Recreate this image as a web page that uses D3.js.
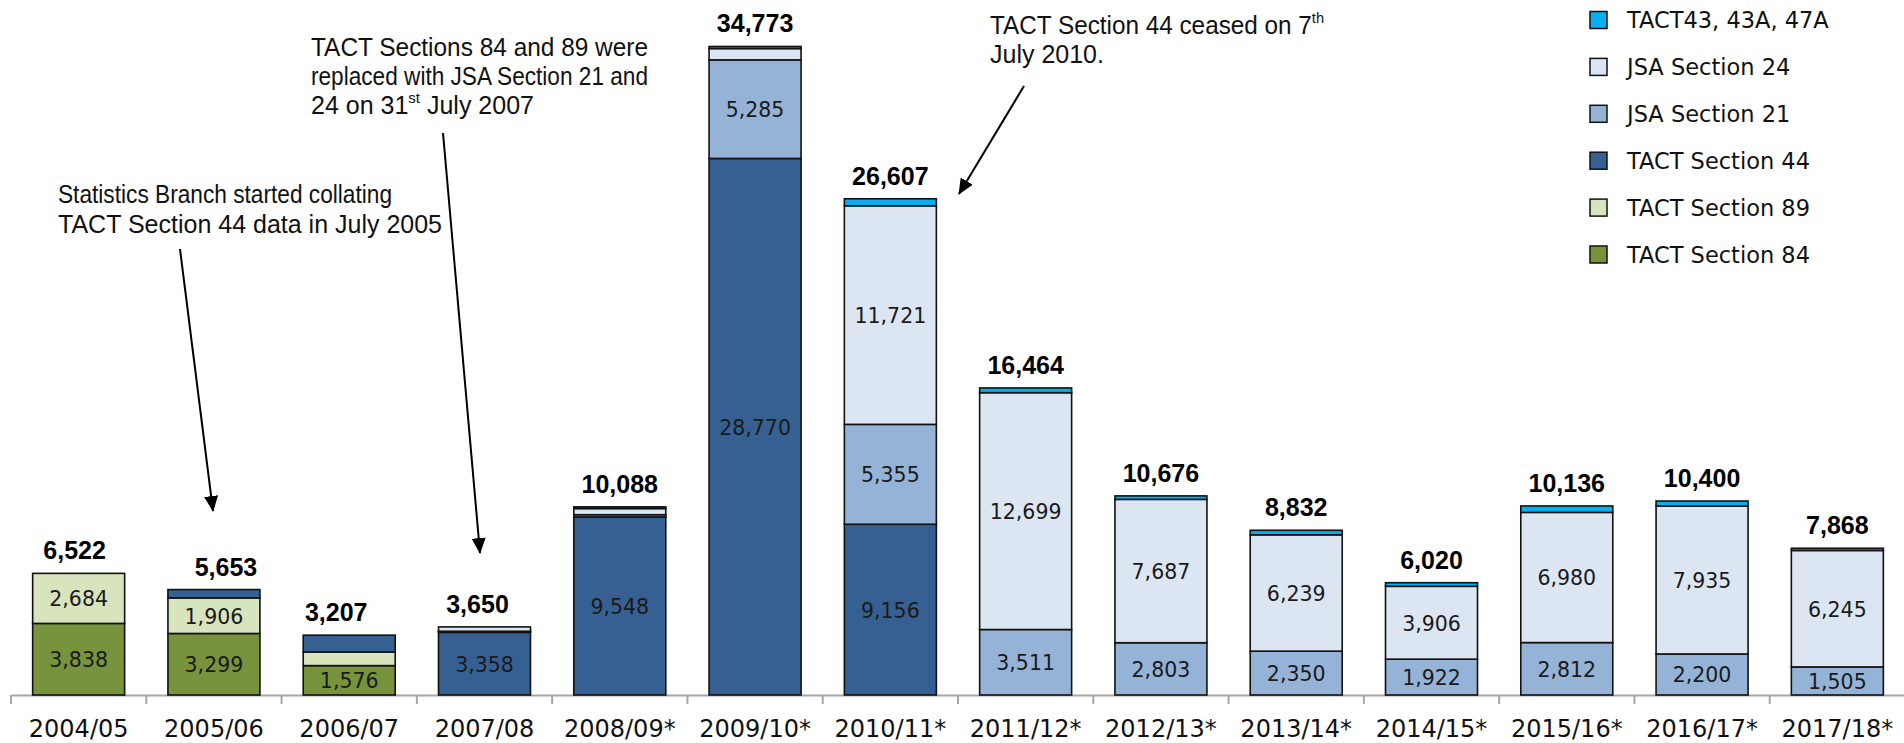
<!DOCTYPE html>
<html>
<head>
<meta charset="utf-8">
<script src="https://cdn.jsdelivr.net/npm/d3@7"></script>
<style>
  body { margin: 0; background: #fff; }
  svg { display: block; }
</style>
</head>
<body>
<div id="wrapper"></div>
<script>
// values
const years = ["2004/05", "2005/06", "2006/07", "2007/08", "2008/09*", "2009/10*", "2010/11*",
    "2011/12*", "2012/13*", "2013/14*", "2014/15*", "2015/16*", "2016/17*", "2017/18*"];
const tact84 = [3838, 3299, 1576, 0, 0, 0, 0, 0, 0, 0, 0, 0, 0, 0];
const tact89 = [2684, 1906, 730, 0, 0, 0, 0, 0, 0, 0, 0, 0, 0, 0];
const tact44 = [0, 448, 901, 3358, 9548, 28770, 9156, 0, 0, 0, 0, 0, 0, 0];
const jsa21 = [0, 0, 0, 60, 120, 5285, 5355, 3511, 2803, 2350, 1922, 2812, 2200, 1505];
const jsa24 = [0, 0, 0, 232, 330, 608, 11721, 12699, 7687, 6239, 3906, 6980, 7935, 6245];
const tact43 = [0, 0, 0, 0, 90, 110, 375, 254, 186, 243, 192, 344, 265, 118];
const totals = [6522, 5653, 3207, 3650, 10088, 34773, 26607, 16464, 10676, 8832, 6020, 10136, 10400, 7868];

const seriesNames = ["TACT Section 84", "TACT Section 89", "TACT Section 44", "JSA Section 21", "JSA Section 24", "TACT43, 43A, 47A"];
const seriesValues = [tact84, tact89, tact44, jsa21, jsa24, tact43];
const colors = ["#77933C", "#D7E4BD", "#376092", "#95B3D7", "#DCE6F2", "#00B0F0"];

// hand-placed total labels in the original
const totalNudge = {"2004/05": -4, "2005/06": 12, "2006/07": -13, "2007/08": -7};

let dimensions = {
    width: 1904,
    height: 743,
    baseline: 695,
    pxPerUnit: 0.01865,
    left: 11,
    right: 1905
}

const wrapper = d3.select("#wrapper").append("svg")
    .attr("width", dimensions.width)
    .attr("height", dimensions.height);

const table = years.map((y, i) => {
    const row = {year: y};
    seriesNames.forEach((s, j) => row[s] = seriesValues[j][i]);
    return row;
});
const stacked = d3.stack().keys(seriesNames)(table);

const yMax = 35000;
const yScaler = d3.scaleLinear()
    .domain([0, yMax])
    .range([dimensions.baseline, dimensions.baseline - yMax * dimensions.pxPerUnit]);
const xScaler = d3.scaleBand()
    .domain(years)
    .range([dimensions.left, dimensions.right])
    .paddingInner(0.32)
    .paddingOuter(0.16);

// axis line + category labels
const axisG = wrapper.append("g")
    .attr("transform", `translate(0, ${dimensions.baseline})`)
    .call(d3.axisBottom(xScaler).tickSize(0).tickPadding(0));
axisG.select(".domain").attr("stroke", "#a6a6a6").attr("stroke-width", 2);
axisG.selectAll(".tick text")
    .attr("y", 42)
    .attr("dy", 0)
    .style("font-family", "DejaVu Sans")
    .style("font-size", "24px")
    .attr("fill", "#111");

// boundary ticks between categories
const step = xScaler.step();
axisG.selectAll("line.boundary")
    .data(d3.range(years.length + 1))
    .enter()
    .append("line")
    .attr("class", "boundary")
    .attr("x1", d => dimensions.left + d * step)
    .attr("x2", d => dimensions.left + d * step)
    .attr("y1", 0)
    .attr("y2", 9)
    .attr("stroke", "#a6a6a6")
    .attr("stroke-width", 2);

// stacked bars
const layers = wrapper.append("g").selectAll("g")
    .data(stacked)
    .enter()
    .append("g")
    .attr("fill", (d, i) => colors[i]);

layers.selectAll("rect")
    .data(d => d.filter(p => p[1] - p[0] > 0))
    .enter()
    .append("rect")
    .attr("x", d => xScaler(d.data.year))
    .attr("width", xScaler.bandwidth())
    .attr("y", d => yScaler(d[1]))
    .attr("height", d => yScaler(d[0]) - yScaler(d[1]))
    .attr("stroke", "#111")
    .attr("stroke-width", 1.6);

// segment values
layers.selectAll("text")
    .data(d => d.filter(p => p[1] - p[0] >= 1000))
    .enter()
    .append("text")
    .attr("x", d => xScaler(d.data.year) + xScaler.bandwidth() / 2)
    .attr("y", d => (yScaler(d[0]) + yScaler(d[1])) / 2 + 8)
    .attr("text-anchor", "middle")
    .style("font-family", "DejaVu Sans")
    .style("font-size", "20.5px")
    .attr("fill", "#1a1a1a")
    .text(d => d3.format(",")(d[1] - d[0]));

// totals
wrapper.append("g").selectAll("text")
    .data(years)
    .enter()
    .append("text")
    .attr("x", (d, i) => xScaler(d) + xScaler.bandwidth() / 2 + (totalNudge[d] || 0))
    .attr("y", (d, i) => yScaler(totals[i]) - 14)
    .attr("text-anchor", "middle")
    .style("font-family", "Liberation Sans")
    .style("font-weight", "bold")
    .style("font-size", "25px")
    .attr("fill", "#000")
    .text((d, i) => d3.format(",")(totals[i]));

// legend, top entry first
const legendOrder = d3.range(seriesNames.length).reverse();
const legend = wrapper.append("g").selectAll("g")
    .data(legendOrder)
    .enter()
    .append("g")
    .attr("transform", (d, i) => `translate(1590, ${20 + i * 46.9})`);
legend.append("rect")
    .attr("x", 0)
    .attr("y", -8.5)
    .attr("width", 17)
    .attr("height", 17)
    .attr("fill", d => colors[d])
    .attr("stroke", "#111")
    .attr("stroke-width", 1.5);
legend.append("text")
    .attr("x", 37)
    .attr("y", 8)
    .style("font-family", "DejaVu Sans")
    .style("font-size", "22.5px")
    .attr("fill", "#111")
    .text(d => seriesNames[d]);

// annotations
wrapper.append("defs").append("marker")
    .attr("id", "head")
    .attr("markerUnits", "userSpaceOnUse")
    .attr("viewBox", "0 0 16 14")
    .attr("refX", 15)
    .attr("refY", 7)
    .attr("markerWidth", 16)
    .attr("markerHeight", 14)
    .attr("orient", "auto")
    .append("path")
    .attr("d", "M0,0 L16,7 L0,14 Z")
    .attr("fill", "#000");

const notes = [
    {x: 58, lines: [
        {y: 203, parts: [["Statistics Branch started collating"]], width: 334},
        {y: 233, parts: [["TACT Section 44 data in July 2005"]]}
    ]},
    {x: 311, lines: [
        {y: 56, parts: [["TACT Sections 84 and 89 were"]], width: 337},
        {y: 85, parts: [["replaced with JSA Section 21 and"]], width: 337},
        {y: 114, parts: [["24 on 31"], ["st", true], [" July 2007"]]}
    ]},
    {x: 990, lines: [
        {y: 34, parts: [["TACT Section 44 ceased on 7"], ["th", true]], width: 334},
        {y: 63, parts: [["July 2010."]]}
    ]}
];
const arrows = [
    [[180, 249], [213, 511]],
    [[443, 133], [480, 553]],
    [[1024, 86], [959, 194]]
];

const noteG = wrapper.append("g")
    .style("font-family", "'Liberation Sans Narrow', 'Liberation Sans', sans-serif")
    .style("font-size", "25px")
    .attr("fill", "#111");

notes.forEach(n => {
    n.lines.forEach(l => {
        const t = noteG.append("text").attr("x", n.x).attr("y", l.y);
        l.parts.forEach(p => {
            const s = t.append("tspan").text(p[0]);
            if (p[1]) s.attr("dy", -11).style("font-size", "15px");
            else if (t.selectAll("tspan").size() > 1) s.attr("dy", 11);
        });
        if (l.width) {
            const natural = t.node().getComputedTextLength();
            const spaces = l.parts.map(p => p[0]).join("").split(" ").length - 1;
            if (natural < l.width) {
                t.attr("word-spacing", (l.width - natural) / spaces);
            } else {
                t.attr("textLength", l.width).attr("lengthAdjust", "spacingAndGlyphs");
            }
        }
    });
});

noteG.selectAll("line")
    .data(arrows)
    .enter()
    .append("line")
    .attr("x1", d => d[0][0])
    .attr("y1", d => d[0][1])
    .attr("x2", d => d[1][0])
    .attr("y2", d => d[1][1])
    .attr("stroke", "#000")
    .attr("stroke-width", 2)
    .attr("marker-end", "url(#head)");
</script>
</body>
</html>
